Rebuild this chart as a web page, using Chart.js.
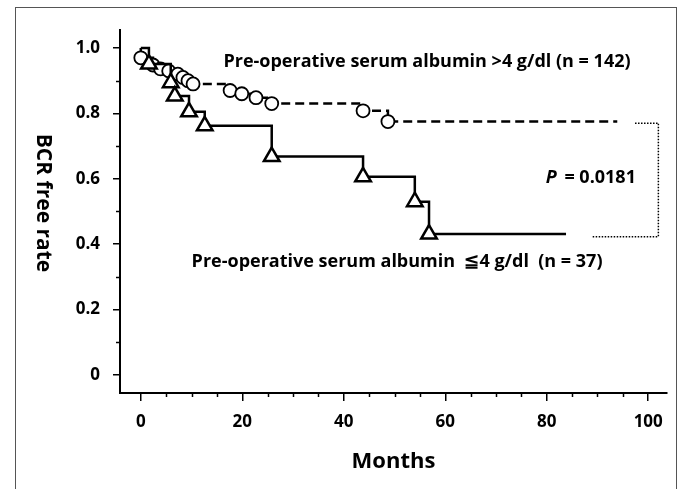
<!DOCTYPE html>
<html>
<head>
<meta charset="utf-8">
<script src="https://cdn.jsdelivr.net/npm/chart.js@4/dist/chart.umd.min.js"></script>
<style>
  html, body { margin: 0; padding: 0; background: #fff; }
  #wrap { position: relative; width: 681px; height: 489px; overflow: hidden; }
  #frame { position: absolute; left: 15px; top: 7px; width: 662px; height: 500px; border: 1px solid #555; box-sizing: border-box; }
  #c { position: absolute; left: 0; top: 0; }
</style>
</head>
<body>
<div id="wrap">
  <div id="frame"></div>
  <canvas id="c" width="681" height="489"></canvas>
</div>
<script>
// albumin > 4 g/dl (circles)
const highX = [0, 0, 2.4, 3.9, 5.5, 7.3, 8.3, 9.3, 10.3, 17.6, 19.9, 22.7, 25.8, 43.8, 48.7, 93.9];
const highY = [1.0, 0.97, 0.948, 0.936, 0.93, 0.92, 0.91, 0.90, 0.89, 0.87, 0.86, 0.848, 0.83, 0.808, 0.775, 0.775];

// albumin <= 4 g/dl (triangles)
const lowX = [0, 1.6, 5.9, 6.7, 9.5, 12.6, 25.8, 43.8, 54, 56.8, 83.8];
const lowY = [1.0, 0.951, 0.894, 0.853, 0.805, 0.762, 0.668, 0.606, 0.53, 0.431, 0.431];

// dotted bracket between curve ends
const bracketX = [97.4, 102, 102, 89];
const bracketY = [0.77, 0.77, 0.423, 0.423];

const xTicks = [0, 20, 40, 60, 80, 100];
const xMinor = [5, 10, 15, 25, 30, 35, 45, 50, 55, 65, 70, 75, 85, 90, 95];
const yTicks = [0, 0.2, 0.4, 0.6, 0.8, 1.0];
const yMinor = [0.1, 0.3, 0.5, 0.7, 0.9];

const labelHigh = 'Pre-operative serum albumin >4 g/dl (n = 142)';
const labelLow = 'Pre-operative serum albumin  \u22664 g/dl  (n = 37)';
const pValue = '0.0181';

const toPts = (xs, ys) => xs.map((x, i) => ({ x: x, y: ys[i] }));
const FONT = '"Open Sans", Lato, sans-serif';

// no marker on start and end points
const endless = (n, r) => (ctx) => (ctx.dataIndex === 0 || ctx.dataIndex === n - 1) ? 0 : r;

const extras = {
  id: 'extras',
  afterDraw(chart) {
    const ctx = chart.ctx;
    const xs = chart.scales.x, ys = chart.scales.y;
    const area = chart.chartArea;
    ctx.save();
    ctx.strokeStyle = '#000';
    ctx.lineWidth = 1.5;
    // minor ticks
    yMinor.forEach(v => {
      const p = Math.round(ys.getPixelForValue(v)) + 0.5;
      ctx.beginPath(); ctx.moveTo(area.left - 4, p); ctx.lineTo(area.left, p); ctx.stroke();
    });
    xMinor.forEach(v => {
      const p = Math.round(xs.getPixelForValue(v)) + 0.5;
      ctx.beginPath(); ctx.moveTo(p, area.bottom); ctx.lineTo(p, area.bottom + 4); ctx.stroke();
    });
    // y title, reading top to bottom
    ctx.fillStyle = '#000';
    ctx.font = 'bold 21px ' + FONT;
    ctx.textAlign = 'center';
    ctx.textBaseline = 'middle';
    ctx.translate(43, 203);
    ctx.rotate(Math.PI / 2);
    ctx.fillText('BCR free rate', 0, 0);
    ctx.restore();

    // curve labels
    ctx.save();
    ctx.fillStyle = '#000';
    ctx.textAlign = 'center';
    ctx.textBaseline = 'middle';
    ctx.font = 'bold 18px ' + FONT;
    ctx.fillText(labelHigh, xs.getPixelForValue(56.4), ys.getPixelForValue(0.957));
    ctx.fillText(labelLow, xs.getPixelForValue(50.5), ys.getPixelForValue(0.346));
    // P value
    ctx.textAlign = 'left';
    const px = xs.getPixelForValue(79.8), py = ys.getPixelForValue(0.602);
    ctx.font = 'italic bold 18px ' + FONT;
    ctx.fillText('P', px, py);
    const w = ctx.measureText('P ').width;
    ctx.font = 'bold 18px ' + FONT;
    ctx.fillText('= ' + pValue, px + w + 3, py);
    ctx.restore();
  }
};

new Chart(document.getElementById('c'), {
  type: 'line',
  data: {
    datasets: [
      {
        data: toPts(lowX, lowY),
        stepped: 'before',
        borderColor: '#000',
        borderWidth: 2.5,
        pointStyle: 'triangle',
        pointRadius: endless(lowX.length, 9),
        pointBorderWidth: 2.5,
        pointBackgroundColor: '#fff',
        pointBorderColor: '#000'
      },
      {
        data: toPts(highX, highY),
        stepped: 'before',
        borderColor: '#000',
        borderWidth: 2.5,
        borderDash: [9, 5],
        pointStyle: 'circle',
        pointRadius: endless(highX.length, 6.5),
        pointBorderWidth: 1.8,
        pointBackgroundColor: '#fff',
        pointBorderColor: '#000'
      },
      {
        data: toPts(bracketX, bracketY),
        borderColor: '#000',
        borderWidth: 1.5,
        borderDash: [1.5, 1.5],
        pointRadius: 0
      }
    ]
  },
  options: {
    responsive: false,
    animation: false,
    layout: { padding: { left: 0, top: 30, right: 14, bottom: 0 } },
    plugins: { legend: { display: false }, tooltip: { enabled: false } },
    scales: {
      x: {
        type: 'linear',
        min: -4.1,
        max: 103.7,
        afterBuildTicks: s => { s.ticks = xTicks.map(v => ({ value: v })); },
        afterFit: s => { s.height = 96; },
        grid: { drawOnChartArea: false, drawTicks: true, tickLength: 8, color: '#000', lineWidth: 1.5 },
        border: { color: '#000', width: 2 },
        ticks: { color: '#000', padding: 11, font: { family: FONT, size: 17, weight: 'bold' } },
        title: {
          display: true,
          text: 'Months',
          color: '#000',
          font: { family: FONT, size: 22, weight: 'bold' },
          padding: { top: 0, bottom: 14 }
        }
      },
      y: {
        type: 'linear',
        min: -0.055,
        max: 1.055,
        afterBuildTicks: s => { s.ticks = yTicks.map(v => ({ value: v })); },
        afterFit: s => { s.width = 120; },
        grid: { drawOnChartArea: false, drawTicks: true, tickLength: 7, color: '#000', lineWidth: 1.5 },
        border: { color: '#000', width: 2 },
        ticks: {
          color: '#000',
          padding: 13,
          font: { family: FONT, size: 17, weight: 'bold' },
          callback: v => v === 0 ? '0' : v.toFixed(1)
        }
      }
    }
  },
  plugins: [extras]
});
</script>
</body>
</html>
